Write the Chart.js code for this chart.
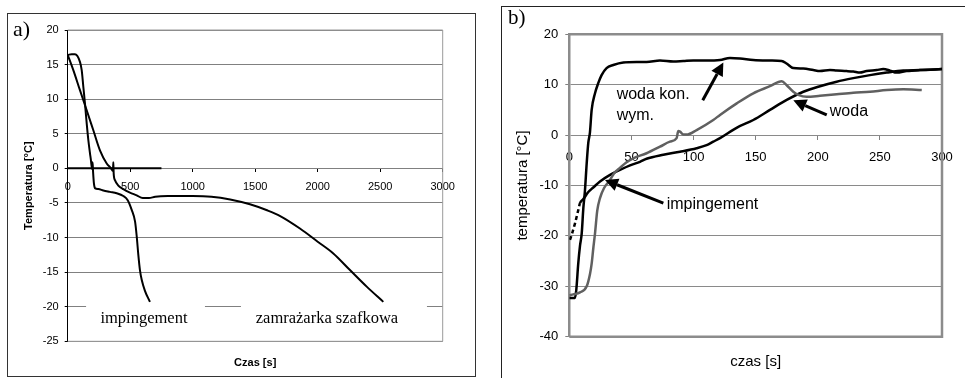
<!DOCTYPE html>
<html lang="pl">
<head>
<meta charset="UTF-8">
<title>Temperatura - czas</title>
<script src="https://cdn.jsdelivr.net/npm/chart.js@4"></script>
<style>
  html, body { margin: 0; padding: 0; background: #fff; }
  body { width: 965px; height: 378px; position: relative; overflow: hidden; }
  .frame { position: absolute; box-sizing: border-box; }
  #frameA { left: 7px; top: 13px; width: 469px; height: 364px; border: 1px solid #333; }
  #frameB { left: 501px; top: 6px; width: 480px; height: 390px; border-left: 1px solid #222; border-top: 1px solid #222; }
  .panel { position: absolute; }
  #wrapA { left: 8px; top: 14px; width: 467px; height: 361px; }
  #wrapB { left: 503px; top: 8px; width: 462px; height: 370px; }
  .tag { position: absolute; font-family: "Liberation Serif", "Times New Roman", serif; line-height: 1; color: #000; }
  #tagA { left: 13px; top: 18px; font-size: 22px; }
  #tagB { left: 508px; top: 7px; font-size: 21px; }
</style>
</head>
<body>
  <div class="frame" id="frameA"></div>
  <div class="frame" id="frameB"></div>
  <div class="panel" id="wrapA"><canvas id="chartA"></canvas></div>
  <div class="panel" id="wrapB"><canvas id="chartB"></canvas></div>
  <div class="tag" id="tagA">a)</div>
  <div class="tag" id="tagB">b)</div>

  <script>
    // ---- panel a) : czas [s] / temperatura [°C]
    const aImpTime = [0, 32, 58, 98, 112, 125, 138, 152, 165, 178, 185, 195, 199, 203, 210, 220, 245, 285, 338, 392, 445, 480, 512, 539, 552, 565, 578, 592, 618, 658];
    const aImpTemp = [16.4, 16.5, 16.5, 15.4, 14.2, 11.8, 9.4, 6.5, 4.1, 2.2, 1.3, -0.1, 0.9, -0.5, -2.2, -2.9, -3.0, -3.2, -3.4, -3.6, -4.0, -4.6, -6.0, -7.7, -9.8, -12.5, -14.7, -16.1, -17.7, -19.3];
    const aCabTime = [0, 45, 98, 152, 205, 258, 312, 347, 362, 365, 368, 378, 405, 445, 498, 552, 600, 650, 700, 800, 1000, 1150, 1300, 1458, 1600, 1700, 1858, 2000, 2125, 2258, 2392, 2525];
    const aCabTemp = [16.4, 14.2, 11.3, 8.4, 5.5, 2.6, 0.7, 0.0, -0.4, 0.9, -0.8, -1.7, -2.5, -3.0, -3.5, -3.9, -4.3, -4.3, -4.1, -4.0, -4.0, -4.1, -4.5, -5.2, -6.1, -6.9, -8.7, -10.6, -12.3, -14.7, -17.1, -19.3];
    const aZeroTime = [0, 750];
    const aZeroTemp = [0, 0];
    const aTicksX = [0, 500, 1000, 1500, 2000, 2500, 3000];
    const aTicksY = [-25, -20, -15, -10, -5, 0, 5, 10, 15, 20];
    const aLabels = ['impingement', 'zamrażarka szafkowa'];

    // ---- panel b) : czas [s] / temperatura [°C]
    const bKonTime = [0, 4.5, 5.5, 6, 7.2, 8.6, 10, 11.3, 12.6, 14, 15.3, 16.6, 18, 20.7, 23.3, 26, 30, 35.4, 43.5, 54.2, 62.2, 73, 83.7, 91.8, 99.8, 110, 121.3, 129.3, 137.4, 148.1, 161.5, 170.9, 174.9, 180.3, 188.3, 196.4, 201.7, 209.8, 215.2, 223.2, 228.6, 233.9, 239.3, 247.4, 252.7, 258.1, 263.5, 271.6, 282.3, 300];
    const bKonTemp = [-32.3, -32.3, -31, -29.6, -25.5, -22, -19.5, -14.5, -11, -5.6, -1.5, 0.5, 5.0, 8.3, 10.3, 11.9, 13.3, 13.9, 14.4, 14.5, 14.5, 14.8, 14.6, 14.7, 14.8, 14.8, 14.9, 15.3, 15.2, 14.9, 14.8, 14.7, 14.2, 13.3, 13.2, 12.9, 12.7, 12.9, 12.8, 12.7, 12.6, 12.4, 12.7, 12.9, 13.1, 12.8, 12.4, 12.7, 12.9, 13.1];
    const bWodaTime = [0, 3.2, 8.6, 14, 16.7, 18, 19.3, 20.7, 22.5, 24.7, 28, 32.5, 36, 40.8, 46.1, 51.5, 62.2, 73, 81, 86.4, 87.7, 89.1, 91.8, 94.4, 102.5, 115.9, 121.3, 134.8, 148.1, 161.5, 171, 175, 180.3, 184.3, 191.1, 201.8, 215.2, 228.6, 242, 255.5, 268.9, 283.7];
    const bWodaTemp = [-31.8, -31.6, -31.2, -30.0, -27.5, -25.5, -22.5, -19.5, -15, -12.5, -10.5, -9.0, -7.6, -6.5, -5.4, -4.6, -3.6, -2.3, -1.3, -0.6, 0.8, 0.7, 0.1, 0.1, 1.0, 3.0, 4.0, 6.3, 8.3, 9.7, 10.7, 9.9, 8.6, 8.0, 7.6, 7.8, 8.1, 8.4, 8.6, 8.95, 9.1, 8.95];
    const bImpTime = [0.5, 1.9, 4.6, 7.2, 8.6, 11.3, 15.3, 19.3, 24.7, 32.8, 40.8, 48.9, 56.9, 62.2, 75.7, 89.1, 102.5, 110.5, 115.9, 121.3, 135, 148.1, 161.5, 175, 188.4, 201.8, 215.2, 228.6, 242, 255.5, 268.9, 282.3, 300];
    const bImpTemp = [-20.8, -19.8, -17.5, -14.9, -13.5, -12.7, -11.3, -10.4, -9.2, -7.9, -6.9, -6.0, -5.3, -4.7, -3.9, -3.3, -2.6, -2.0, -1.3, -0.6, 1.5, 3.0, 5.0, 7.0, 8.6, 9.7, 10.6, 11.3, 11.9, 12.4, 12.8, 12.9, 13.1];
    const bTicksX = [0, 50, 100, 150, 200, 250, 300];
    const bTicksY = [-40, -30, -20, -10, 0, 10, 20];
    const bLabels = ['woda kon.', 'wym.', 'woda', 'impingement'];

    const zip = (xs, ys) => xs.map((x, i) => ({ x: x, y: ys[i] }));
    const fixTicks = list => scale => { scale.ticks = list.map(v => ({ value: v })); };
    const sans = '"Liberation Sans", Arial, sans-serif';
    const serif = '"Liberation Serif", "Times New Roman", serif';

    // gray plot frame (top, right, bottom) like the spreadsheet chart
    const plotFrame = (color, width) => ({
      id: 'plotFrame',
      beforeDatasetsDraw(chart) {
        const { ctx, chartArea: a } = chart;
        ctx.save();
        ctx.strokeStyle = color;
        ctx.lineWidth = width;
        ctx.beginPath();
        ctx.moveTo(a.left, a.top);
        ctx.lineTo(a.right, a.top);
        ctx.lineTo(a.right, a.bottom);
        ctx.lineTo(a.left, a.bottom);
        ctx.stroke();
        ctx.restore();
      }
    });

    // text boxes below the curves in a)
    const aNotes = {
      id: 'aNotes',
      afterDatasetsDraw(chart) {
        const { ctx, scales: { x, y } } = chart;
        const boxes = [
          { text: aLabels[0], cx: 610, from: 147, to: 1098 },
          { text: aLabels[1], cx: 2074, from: 1386, to: 2874 }
        ];
        ctx.save();
        boxes.forEach(b => {
          const top = y.getPixelForValue(-19.7), bot = y.getPixelForValue(-24.1);
          ctx.fillStyle = '#fff';
          ctx.fillRect(x.getPixelForValue(b.from), top, x.getPixelForValue(b.to) - x.getPixelForValue(b.from), bot - top);
          ctx.fillStyle = '#000';
          ctx.font = '16.5px ' + serif;
          ctx.textAlign = 'center';
          ctx.textBaseline = 'middle';
          ctx.fillText(b.text, x.getPixelForValue(b.cx), y.getPixelForValue(-21.8));
        });
        ctx.restore();
      }
    };

    // arrows + labels in b)
    const bNotes = {
      id: 'bNotes',
      afterDatasetsDraw(chart) {
        const { ctx, scales: { x, y } } = chart;
        const arrows = [
          [107.4, 6.9, 124, 14.4],
          [207.2, 4.0, 180.3, 6.9],
          [75.7, -13.5, 28.7, -8.9]
        ];
        ctx.save();
        ctx.strokeStyle = '#000';
        ctx.fillStyle = '#000';
        ctx.lineWidth = 3;
        arrows.forEach(([x1, y1, x2, y2]) => {
          const px1 = x.getPixelForValue(x1), py1 = y.getPixelForValue(y1);
          const px2 = x.getPixelForValue(x2), py2 = y.getPixelForValue(y2);
          const ang = Math.atan2(py2 - py1, px2 - px1);
          const len = 13, half = 6.5;
          const bx = px2 - len * Math.cos(ang), by = py2 - len * Math.sin(ang);
          ctx.beginPath();
          ctx.moveTo(px1, py1);
          ctx.lineTo(bx, by);
          ctx.stroke();
          ctx.beginPath();
          ctx.moveTo(px2, py2);
          ctx.lineTo(bx + half * Math.sin(ang), by - half * Math.cos(ang));
          ctx.lineTo(bx - half * Math.sin(ang), by + half * Math.cos(ang));
          ctx.closePath();
          ctx.fill();
        });
        ctx.font = '16px ' + sans;
        ctx.textAlign = 'left';
        ctx.textBaseline = 'middle';
        ctx.fillText(bLabels[0], x.getPixelForValue(38.1), y.getPixelForValue(8.06));
        ctx.fillText(bLabels[1], x.getPixelForValue(38.1), y.getPixelForValue(3.95));
        ctx.fillText(bLabels[2], x.getPixelForValue(209.7), y.getPixelForValue(4.62));
        ctx.fillText(bLabels[3], x.getPixelForValue(78.4), y.getPixelForValue(-13.77));
        ctx.restore();
      }
    };

    const line = (data, color, width, extra) => Object.assign({
      data: data,
      borderColor: color,
      borderWidth: width,
      pointRadius: 0,
      fill: false,
      cubicInterpolationMode: 'monotone'
    }, extra || {});

    new Chart(document.getElementById('chartA'), {
      type: 'line',
      data: {
        datasets: [
          line(zip(aZeroTime, aZeroTemp), '#000', 2, { cubicInterpolationMode: 'default', tension: 0 }),
          line(zip(aCabTime, aCabTemp), '#000', 2),
          line(zip(aImpTime, aImpTemp), '#000', 2)
        ]
      },
      options: {
        responsive: true,
        maintainAspectRatio: false,
        animation: false,
        layout: { padding: { left: 0, top: 16, right: 32.3, bottom: 0 } },
        plugins: { legend: { display: false }, tooltip: { enabled: false } },
        scales: {
          x: {
            type: 'linear', min: 0, max: 3000,
            position: { y: 0 },
            afterBuildTicks: fixTicks(aTicksX),
            afterFit: s => { s.height = 0; },
            grid: { drawOnChartArea: false, drawTicks: true, tickLength: 4, tickColor: '#000' },
            border: { display: false },
            ticks: { color: '#000', font: { family: sans, size: 11 }, padding: 8, maxRotation: 0, autoSkip: false, callback: v => String(v) }
          },
          xt: {
            type: 'linear', min: 0, max: 3000, position: 'bottom',
            afterFit: s => { s.height = 33.7; },
            grid: { display: false }, border: { display: false }, ticks: { display: false },
            title: { display: true, text: 'Czas [s]', color: '#000', font: { family: sans, size: 11, weight: 'bold' }, padding: { top: 0, bottom: 5.6 } }
          },
          y: {
            type: 'linear', min: -25, max: 20, position: 'left',
            afterBuildTicks: fixTicks(aTicksY),
            afterFit: s => { s.width = 59.7; },
            grid: { color: '#808080', lineWidth: 1, drawTicks: true, tickLength: 3, tickColor: '#000' },
            border: { display: true, color: '#000', width: 1 },
            ticks: { color: '#000', font: { family: sans, size: 11 }, padding: 6, callback: v => String(v) },
            title: { display: true, text: 'Temperatura [°C]', color: '#000', font: { family: sans, size: 11, weight: 'bold' }, padding: { top: 14, bottom: 0 } }
          }
        }
      },
      plugins: [plotFrame('#9a9a9a', 1), aNotes]
    });

    new Chart(document.getElementById('chartB'), {
      type: 'line',
      data: {
        datasets: [
          line(zip(bWodaTime, bWodaTemp), '#606060', 2.5),
          line(zip(bImpTime, bImpTemp), '#000', 2.5, {
            segment: { borderDash: c => (c.p1.parsed.x <= 8.6 ? [4, 3] : undefined) }
          }),
          line(zip(bKonTime, bKonTemp), '#000', 2.5)
        ]
      },
      options: {
        responsive: true,
        maintainAspectRatio: false,
        animation: false,
        layout: { padding: { left: 0, top: 26.3, right: 23, bottom: 0 } },
        plugins: { legend: { display: false }, tooltip: { enabled: false } },
        scales: {
          x: {
            type: 'linear', min: 0, max: 300,
            position: { y: 0 },
            afterBuildTicks: fixTicks(bTicksX),
            afterFit: s => { s.height = 0; },
            grid: { drawOnChartArea: false, drawTicks: true, tickLength: 5, tickColor: '#808080' },
            border: { display: false },
            ticks: { color: '#000', font: { family: sans, size: 13 }, padding: 10, maxRotation: 0, autoSkip: false, callback: v => String(v) }
          },
          xt: {
            type: 'linear', min: 0, max: 300, position: 'bottom',
            afterFit: s => { s.height = 41.3; },
            grid: { display: false }, border: { display: false }, ticks: { display: false },
            title: { display: true, text: 'czas [s]', color: '#000', font: { family: sans, size: 15 }, padding: { top: 0, bottom: 7 } }
          },
          y: {
            type: 'linear', min: -40, max: 20, position: 'left',
            afterBuildTicks: fixTicks(bTicksY),
            afterFit: s => { s.width = 66.3; },
            grid: { color: '#8a8a8a', lineWidth: 1, drawTicks: true, tickLength: 4, tickColor: '#808080' },
            border: { display: true, color: '#8c8c8c', width: 2.5 },
            ticks: { color: '#000', font: { family: sans, size: 13 }, padding: 7, callback: v => String(v) },
            title: { display: true, text: 'temperatura [°C]', color: '#000', font: { family: sans, size: 15 }, padding: { top: 11, bottom: 0 } }
          }
        }
      },
      plugins: [plotFrame('#8c8c8c', 2.5), bNotes]
    });
  </script>
</body>
</html>
